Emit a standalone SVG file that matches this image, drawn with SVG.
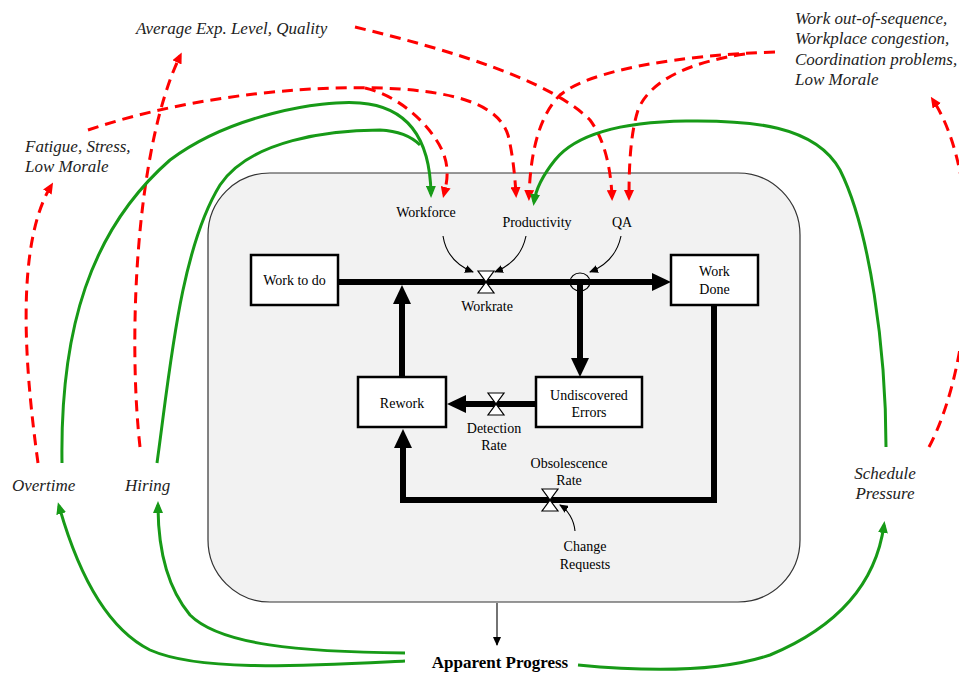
<svg xmlns="http://www.w3.org/2000/svg" width="959" height="673" viewBox="0 0 959 673">
<style>
text{font-family:"Liberation Serif","Times New Roman",serif;fill:#000}
.lbl{font-size:14px;text-anchor:middle}
.ital{font-size:17px;font-style:italic;fill:#222}
.box{fill:#fff;stroke:#000;stroke-width:2.5}
.flow{fill:none;stroke:#000;stroke-width:6;stroke-linejoin:miter}
.info{fill:none;stroke:#000;stroke-width:1.1}
.neg{fill:none;stroke:#f00;stroke-width:3;stroke-dasharray:11 7}
.pos{fill:none;stroke:#179a17;stroke-width:3}
</style>
<defs>
<marker id="flowArrow" viewBox="0 0 19 18" markerWidth="19" markerHeight="18" refX="1" refY="9" markerUnits="userSpaceOnUse" orient="auto"><path d="M0,0 L19,9 L0,18 z" fill="#000"/></marker>
<marker id="infoArrow" viewBox="0 0 9 8" markerWidth="9" markerHeight="8" refX="8" refY="4" markerUnits="userSpaceOnUse" orient="auto"><path d="M0,0 L9,4 L0,8 z" fill="#000"/></marker>
<marker id="redArrow" viewBox="0 0 11 10" markerWidth="11" markerHeight="10" refX="7" refY="5" markerUnits="userSpaceOnUse" orient="auto"><path d="M0,0 L11,5 L0,10 z" fill="#f00"/></marker>
<marker id="greenArrow" viewBox="0 0 12 10" markerWidth="12" markerHeight="10" refX="8" refY="5" markerUnits="userSpaceOnUse" orient="auto"><path d="M0,0 L12,5 L0,10 z" fill="#179a17"/></marker>
<polygon id="valve" points="-8,-11 8,-11 -8,11 8,11 -8,-11" fill="#fff" stroke="#000" stroke-width="1.2"/>
</defs>

<g id="system-boundary">
<rect x="208" y="173" width="592" height="429" rx="62" ry="62" fill="#f2f2f2" stroke="#333" stroke-width="1.2"/>
</g>

<g id="connectors">
<!-- stock-flow thick arrows -->
<path class="flow" d="M338,282 H653" marker-end="url(#flowArrow)"/>
<path class="flow" d="M580,282 V359" marker-end="url(#flowArrow)"/>
<path class="flow" d="M536,404 H465" marker-end="url(#flowArrow)"/>
<path class="flow" d="M402,377 V303" marker-end="url(#flowArrow)"/>
<path class="flow" d="M714,305 V500 H403 V447" marker-end="url(#flowArrow)"/>
<ellipse cx="580" cy="282" rx="10" ry="9" fill="none" stroke="#000" stroke-width="1.2"/>
<!-- info arrows -->
<path class="info" d="M443,236 C446,255 458,266 473,272" marker-end="url(#infoArrow)"/>
<path class="info" d="M526,236 C522,255 510,266 495,272" marker-end="url(#infoArrow)"/>
<path class="info" d="M621,236 C617,255 605,266 590,272" marker-end="url(#infoArrow)"/>
<path class="info" d="M575,531 C574,520 568,510 560,505" marker-end="url(#infoArrow)"/>
<path class="info" d="M497,603 V645" marker-end="url(#infoArrow)"/>
<!-- red dashed negative influences -->
<path class="neg" d="M38,463 C28,390 12,250 51,186" marker-end="url(#redArrow)"/>
<path class="neg" d="M140,447 C128,340 135,150 180,56" marker-end="url(#redArrow)"/>
<path class="neg" d="M88,130 C200,92 330,84 400,89 C470,94 500,110 508,135 C513,155 515,178 516,194" marker-end="url(#redArrow)"/>
<path class="neg" d="M365,88 C400,96 430,125 442,150 C450,168 447,182 444,194" marker-end="url(#redArrow)"/>
<path class="neg" d="M355,27 C450,50 550,80 590,120 C605,140 611,170 612,197" marker-end="url(#redArrow)"/>
<path class="neg" d="M775,52 C680,55 590,70 560,95 C535,120 530,165 529,197" marker-end="url(#redArrow)"/>
<path class="neg" d="M745,54 C690,62 650,80 638,110 C630,135 629,170 629,197" marker-end="url(#redArrow)"/>
<path class="neg" d="M929,447 C975,360 985,180 933,100" marker-end="url(#redArrow)"/>
<!-- green positive influences -->
<path class="pos" d="M62,463 C60,330 90,230 170,160 C230,115 320,100 360,103 C400,106 430,130 431,194" marker-end="url(#greenArrow)"/>
<path class="pos" d="M157,463 C170,370 180,250 220,185 C250,140 330,130 380,130 C400,131 412,137 420,145"/>
<path class="pos" d="M886,447 C886,350 870,230 840,170 C815,125 750,120 686,121 C620,122 575,135 555,160 C543,175 536,188 534,202" marker-end="url(#greenArrow)"/>
<path class="pos" d="M405,653 C300,652 220,645 190,615 C165,585 158,545 158,505" marker-end="url(#greenArrow)"/>
<path class="pos" d="M405,661 C300,666 200,672 150,650 C110,630 80,580 59,506" marker-end="url(#greenArrow)"/>
<path class="pos" d="M578,665 C650,672 720,672 770,655 C830,630 875,590 884,525" marker-end="url(#greenArrow)"/>
</g>

<g id="work-to-do"><rect class="box" x="251" y="255" width="87" height="50"/><text class="lbl" x="294.5" y="285">Work to do</text></g>
<g id="work-done"><rect class="box" x="671" y="255" width="87" height="50"/><text class="lbl" x="714.5" y="276">Work</text><text class="lbl" x="714.5" y="294">Done</text></g>
<g id="rework"><rect class="box" x="358" y="377" width="88" height="50"/><text class="lbl" x="402" y="408">Rework</text></g>
<g id="undiscovered-errors"><rect class="box" x="536" y="377" width="106" height="50"/><text class="lbl" x="589" y="400">Undiscovered</text><text class="lbl" x="589" y="417">Errors</text></g>

<g id="workrate"><use href="#valve" x="486" y="282"/><text class="lbl" x="487" y="311">Workrate</text></g>
<g id="detection-rate"><use href="#valve" x="496" y="404"/><text class="lbl" x="494" y="433">Detection</text><text class="lbl" x="494" y="450">Rate</text></g>
<g id="obsolescence-rate"><use href="#valve" x="550" y="500"/><text class="lbl" x="569" y="468">Obsolescence</text><text class="lbl" x="569" y="485">Rate</text></g>

<g id="workforce"><text class="lbl" x="426" y="217">Workforce</text></g>
<g id="productivity"><text class="lbl" x="537" y="227">Productivity</text></g>
<g id="qa"><text class="lbl" x="622" y="227">QA</text></g>
<g id="change-requests"><text class="lbl" x="585" y="551">Change</text><text class="lbl" x="585" y="569">Requests</text></g>

<g id="avg-exp"><text class="ital" x="136" y="34">Average Exp. Level, Quality</text></g>
<g id="fatigue"><text class="ital" x="25" y="152">Fatigue, Stress,</text><text class="ital" x="25" y="172">Low Morale</text></g>
<g id="work-out-of-sequence"><text class="ital" x="795" y="24">Work out-of-sequence,</text><text class="ital" x="795" y="44">Workplace congestion,</text><text class="ital" x="795" y="65">Coordination problems,</text><text class="ital" x="795" y="85">Low Morale</text></g>
<g id="overtime"><text class="ital" x="12" y="491">Overtime</text></g>
<g id="hiring"><text class="ital" x="125" y="491">Hiring</text></g>
<g id="schedule-pressure"><text class="ital" x="885" y="479" text-anchor="middle">Schedule</text><text class="ital" x="885" y="499" text-anchor="middle">Pressure</text></g>
<g id="apparent-progress"><text x="500" y="668" text-anchor="middle" font-size="17" font-weight="bold">Apparent Progress</text></g>
</svg>
